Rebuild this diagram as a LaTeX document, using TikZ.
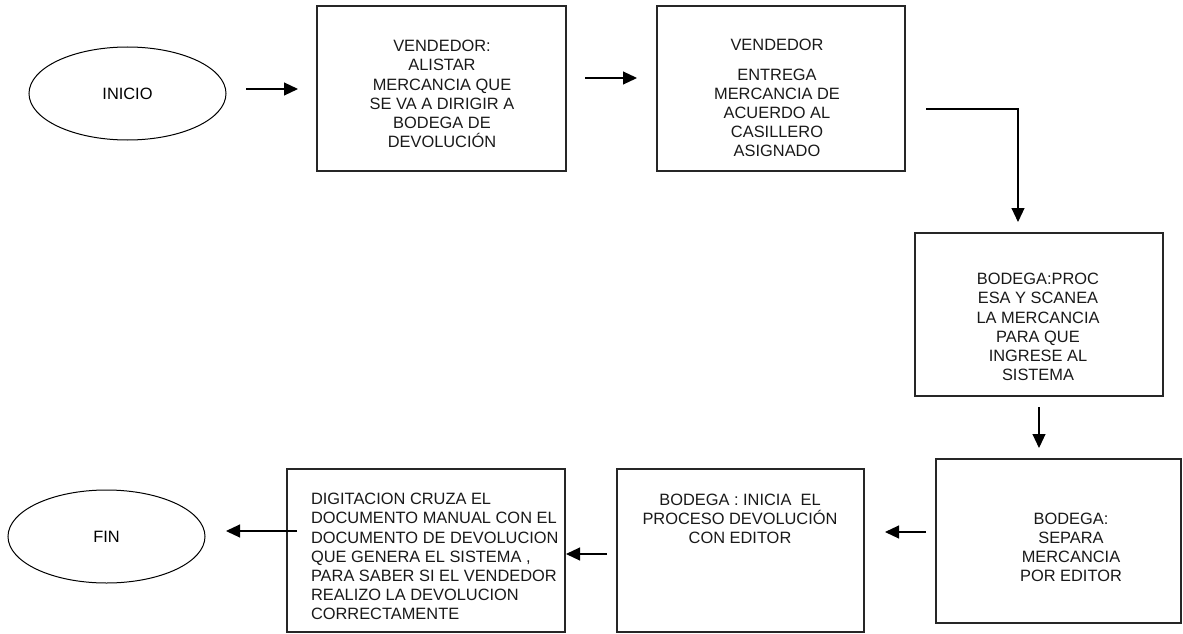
\documentclass[tikz,border=0pt]{standalone}
\usepackage{fontspec}
\setmainfont{Liberation Sans}
\usetikzlibrary{shapes.geometric,arrows.meta}
\begin{document}
\begin{tikzpicture}[x=1pt,y=-1pt,
  every node/.style={inner sep=0pt, outer sep=0pt},
  boxnode/.style={draw=black!85, line width=1.2pt, rectangle},
  ovalnode/.style={draw=black, line width=1pt, ellipse, font=\fontsize{16.4}{19.1}\selectfont},
  txt/.style={font=\fontsize{16.4}{19.1}\selectfont, align=center, text=black!90},
  conn/.style={line width=1.1pt, -{Triangle[length=14pt,width=13pt]}}]
\useasboundingbox (0,0) rectangle (1183,634);
% shapes
\node[ovalnode, minimum width=197pt, minimum height=93pt] (ini) at (127.5,93.5) {INICIO};
\node[boxnode, minimum width=249pt, minimum height=165pt] (b1) at (441.5,88.5) {};
\node[boxnode, minimum width=248pt, minimum height=165pt] (b2) at (781,88.5) {};
\node[boxnode, minimum width=248pt, minimum height=163pt] (b3) at (1039,314.5) {};
\node[boxnode, minimum width=245pt, minimum height=164pt] (b4) at (1058.5,541) {};
\node[boxnode, minimum width=247pt, minimum height=163pt] (b5) at (740.5,550.5) {};
\node[boxnode, minimum width=278pt, minimum height=163pt] (b6) at (426,550.5) {};
\node[ovalnode, minimum width=197pt, minimum height=93pt] (fin) at (106.5,536.5) {FIN};
% texts
\node[txt] (t1) at (442,94) {VENDEDOR:\\ALISTAR\\MERCANCIA QUE\\SE VA A DIRIGIR A\\BODEGA DE\\DEVOLUCIÓN};
\node[txt] (t2) at (777,98) {VENDEDOR\\[11pt]ENTREGA\\MERCANCIA DE\\ACUERDO AL\\CASILLERO\\ASIGNADO};
\node[txt] (t3) at (1038,327) {BODEGA:PROC\\ESA Y SCANEA\\LA MERCANCIA\\PARA QUE\\INGRESE AL\\SISTEMA};
\node[txt] (t4) at (1071,547) {BODEGA:\\SEPARA\\MERCANCIA\\POR EDITOR};
\node[txt] (t5) at (740,518.5) {BODEGA : INICIA\ \ EL\\PROCESO DEVOLUCIÓN\\CON EDITOR};
\node[txt, align=left, anchor=west] (t6) at (311,556.5) {DIGITACION CRUZA EL\\DOCUMENTO MANUAL CON EL\\DOCUMENTO DE DEVOLUCION\\QUE GENERA EL SISTEMA ,\\PARA SABER SI EL VENDEDOR\\REALIZO LA DEVOLUCION\\CORRECTAMENTE};
% connector end points
\coordinate (a1s) at (246,89);   \coordinate (a1e) at (298,89);
\coordinate (a2s) at (585,78);   \coordinate (a2e) at (637,78);
\coordinate (a3s) at (926,109);  \coordinate (a3k) at (1018,109); \coordinate (a3e) at (1018,222);
\coordinate (a4s) at (1039,407); \coordinate (a4e) at (1039,448);
\coordinate (a5s) at (926,532);  \coordinate (a5e) at (885,532);
\coordinate (a6s) at (607,554);  \coordinate (a6e) at (566,554);
\coordinate (a7s) at (297,531);  \coordinate (a7e) at (226,531);
% connectors
\draw[conn] (a1s) -- (a1e);
\draw[conn] (a2s) -- (a2e);
\draw[conn] (a3s) -- (a3k) -- (a3e);
\draw[conn] (a4s) -- (a4e);
\draw[conn] (a5s) -- (a5e);
\draw[conn] (a6s) -- (a6e);
\draw[conn] (a7s) -- (a7e);
\end{tikzpicture}
\end{document}
